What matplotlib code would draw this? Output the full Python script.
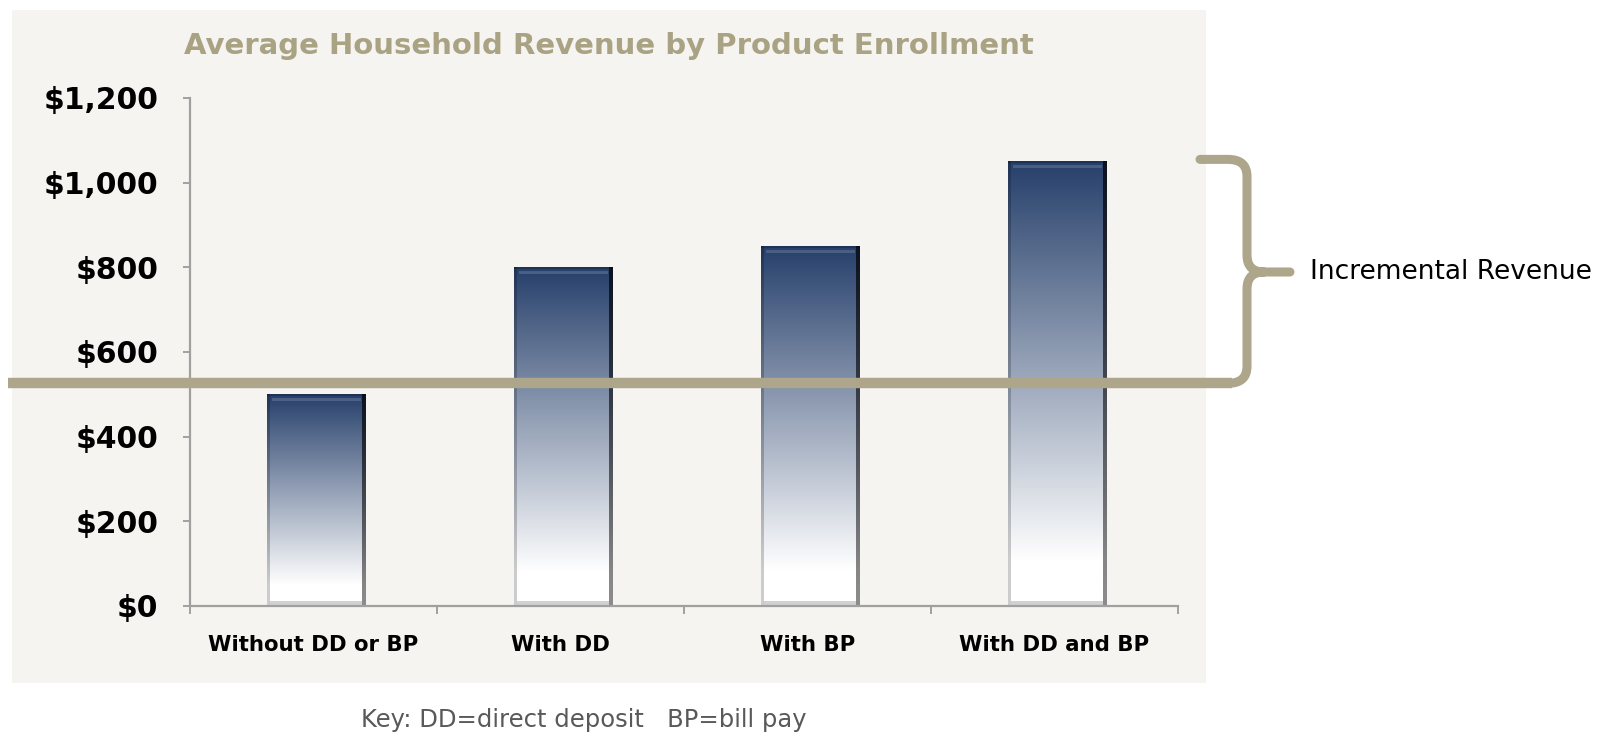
import numpy as np
import matplotlib.pyplot as plt
from matplotlib.path import Path
from matplotlib.patches import PathPatch, Rectangle
from matplotlib import transforms

categories = ['Without DD or BP', 'With DD', 'With BP', 'With DD and BP']
revenue = [500, 800, 850, 1050]
yticks = [0, 200, 400, 600, 800, 1000, 1200]
ytick_labels = ['\\$0', '\\$200', '\\$400', '\\$600', '\\$800', '\\$1,000', '\\$1,200']
base_revenue = 526    # level of the horizontal line
top_revenue = 1055    # top of the brace
brace_label = 'Incremental Revenue'

W, H = 1606, 735
tan = '#ADA68A'


def bar_image(rows, cols):
    # vertical navy-to-white gradient with a simple bevel
    t = np.linspace(0, 1, rows)[:, None, None]
    c0 = np.array([0.15, 0.25, 0.42])
    f = np.clip(t / 0.9, 0, 1)
    img = (c0 + (1 - c0) * f) * np.ones((rows, cols, 3))
    img[:2, :] *= 0.8
    img[4:7, 5:-5] = img[4:7, 5:-5] * 0.85 + 0.15
    img[:, :3] *= 0.8
    dark = np.linspace(0.3, 0.55, rows)[:, None, None]
    img[:, -4:] *= dark
    img[-5:, 3:-4] *= 0.82
    return np.clip(img, 0, 1)


fig = plt.figure(figsize=(W / 100, H / 100), dpi=100)
fig.patches.append(Rectangle((12 / W, 1 - 683 / H), (1206 - 12) / W, (683 - 10) / H,
                             transform=fig.transFigure, facecolor='#F5F4F0',
                             edgecolor='none', zorder=-1))

ax = fig.add_axes([190 / W, 1 - 606 / H, 988 / W, 508 / H])
ax.patch.set_alpha(0)

x = np.arange(len(categories))
bars = ax.bar(x + 0.012, revenue, width=0.4, color='none', edgecolor='none')
for b in bars:
    x0, y0, bw, bh = b.get_x(), b.get_y(), b.get_width(), b.get_height()
    rows = max(int(bh * 508 / 1200), 10)
    ax.imshow(bar_image(rows, 99), extent=[x0, x0 + bw, y0, y0 + bh],
              aspect='auto', zorder=2, interpolation='nearest')

ax.set_xlim(-0.5, len(categories) - 0.5)
ax.set_ylim(0, 1200)

for s in ['top', 'right']:
    ax.spines[s].set_visible(False)
for s in ['left', 'bottom']:
    ax.spines[s].set_color('#A0A0A0')
    ax.spines[s].set_linewidth(1.6)

ax.set_yticks(yticks)
ax.set_yticklabels(ytick_labels, fontsize=21.5, fontweight='bold')
ax.tick_params(axis='y', length=5, width=1.4, color='#A0A0A0', pad=18)
ax.set_xticks(x)
ax.set_xticklabels(categories, fontsize=15.3, fontweight='bold')
ax.set_xticks(np.arange(len(categories) + 1) - 0.5, minor=True)
ax.tick_params(axis='x', which='major', length=0, pad=21)
ax.tick_params(axis='x', which='minor', length=6, width=1.4, color='#A0A0A0')

# horizontal line at the base level, running out to the brace
ax.axhline(base_revenue, xmin=(8 - 190) / 988, xmax=(1232 - 190) / 988,
           color=tan, lw=7.5, clip_on=False, zorder=5, solid_capstyle='butt')

# right-hand brace between the base level and the top bar
trans = transforms.blended_transform_factory(fig.transFigure, ax.transData)
xv, xtip = 1247, 1290
ymid = 789
r = 40
verts = [(1200, top_revenue), (1228, top_revenue),
         (xv, top_revenue), (xv, top_revenue - r),
         (xv, ymid + r),
         (xv, ymid), (1264, ymid),
         (xtip, ymid),
         (1264, ymid),
         (xv, ymid), (xv, ymid - r),
         (xv, base_revenue + r),
         (xv, base_revenue), (1228, base_revenue)]
codes = [Path.MOVETO, Path.LINETO,
         Path.CURVE3, Path.CURVE3,
         Path.LINETO,
         Path.CURVE3, Path.CURVE3,
         Path.LINETO,
         Path.MOVETO,
         Path.CURVE3, Path.CURVE3,
         Path.LINETO,
         Path.CURVE3, Path.CURVE3]
verts = [(vx / W, vy) for vx, vy in verts]
brace = PathPatch(Path(verts, codes), transform=trans, facecolor='none',
                  edgecolor=tan, lw=6.5, capstyle='round', joinstyle='round',
                  clip_on=False, zorder=5)
fig.patches.append(brace)
fig.text(1310 / W, ymid, brace_label, transform=trans, fontsize=19,
         ha='left', va='center', color='black')

fig.text(184 / W, 1 - 46 / H, 'Average Household Revenue by Product Enrollment',
         fontsize=21, fontweight='bold', color='#A9A283', ha='left', va='center')
fig.text(584 / W, 1 - 720 / H, 'Key: DD=direct deposit   BP=bill pay',
         fontsize=17.5, color='#595959', ha='center', va='center')

fig.savefig('out.png', dpi=100)
